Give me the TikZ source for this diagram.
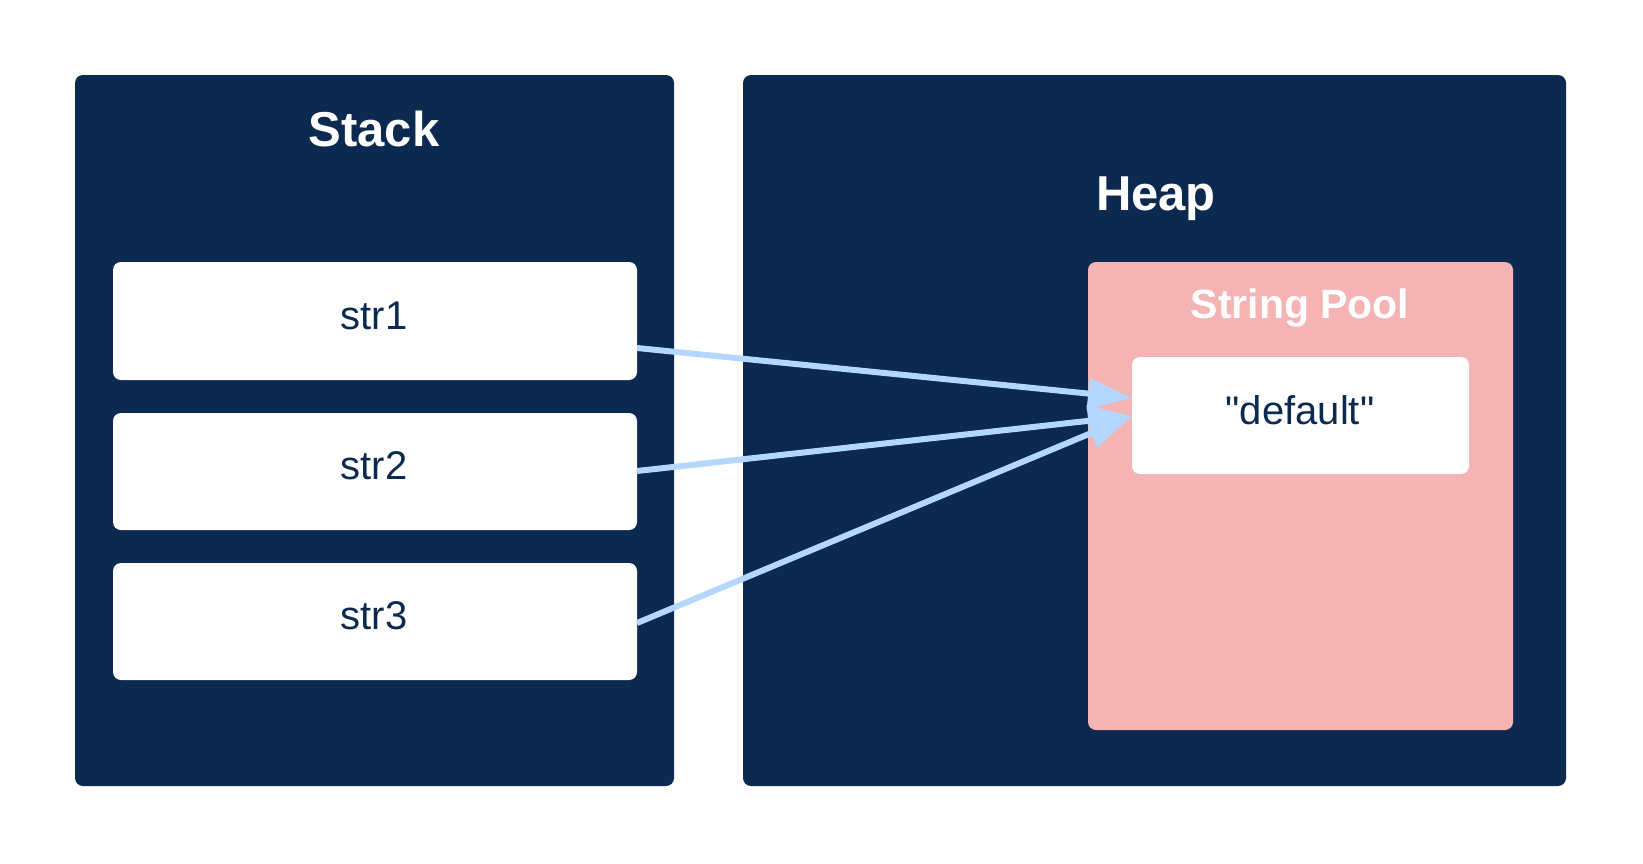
\documentclass[tikz,border=0pt]{standalone}
\usepackage{fontspec}
\setmainfont{Liberation Sans}[Ligatures=TeXOff]
\usetikzlibrary{arrows.meta}
\definecolor{navy}{HTML}{0C2A50}
\definecolor{pool}{HTML}{F5B3B4}
\definecolor{link}{HTML}{B3D7FF}
\begin{document}
\begin{tikzpicture}[x=1pt,y=-1pt,
  panel/.style={fill=navy,rounded corners=8pt},
  cell/.style={fill=white,rounded corners=8pt},
  title/.style={text=white,font=\bfseries\fontsize{49}{55}\selectfont},
  label/.style={text=navy,font=\fontsize{40}{46}\selectfont},
  ref/.style={draw=link,line width=6pt,-{Triangle[length=44pt,width=30pt]},shorten >=0pt}]
\useasboundingbox (0,0) rectangle (1643,863);
% memory regions
\fill[panel] (75,75) rectangle (674,786);
\fill[panel] (743,75) rectangle (1566,786);
\node[title] (stack) at (374,129) {Stack};
\node[title] (heap) at (1156,199) {Heap};
% string pool inside the heap
\fill[pool,rounded corners=8pt] (1088,262) rectangle (1513,730);
\node[text=white,font=\bfseries\fontsize{41}{47}\selectfont] (pooltitle) at (1300,308) {String Pool};
% stack variables
\fill[cell] (113,262) rectangle (637,380);
\fill[cell] (113,413) rectangle (637,530);
\fill[cell] (113,563) rectangle (637,680);
\node[label] (s1) at (374,316) {str1};
\node[label] (s2) at (374,466) {str2};
\node[label] (s3) at (374,616) {str3};
\coordinate (s1r) at (637,348);
\coordinate (s2r) at (637,471);
\coordinate (s3r) at (637,623);
% pooled literal
\fill[cell] (1132,357) rectangle (1469,474);
\node[label] (lit) at (1300,410) {"default"};
\coordinate (t1) at (1132,398);
\coordinate (t2) at (1132,416);
% references
\draw[ref] (s1r) -- (t1);
\draw[ref] (s2r) -- (t2);
\draw[ref] (s3r) -- (t2);
\end{tikzpicture}
\end{document}
